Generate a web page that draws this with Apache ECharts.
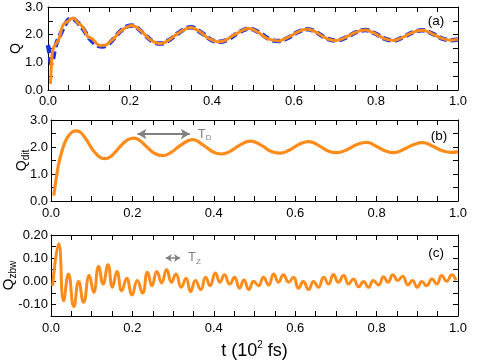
<!DOCTYPE html>
<html>
<head>
<meta charset="utf-8">
<script src="https://cdn.jsdelivr.net/npm/echarts@6/dist/echarts.min.js"></script>
<style>
html, body { margin: 0; padding: 0; background: #fff; }
#chart { width: 485px; height: 363px; }
</style>
</head>
<body>
<div id="chart"></div>
<script>
// panel (a): total Q (orange) and reference Q (blue dashed)
var tTot = [0.006, 0.008, 0.010, 0.013, 0.017, 0.022, 0.028, 0.033, 0.038, 0.044, 0.050, 0.056, 0.062, 0.068, 0.074, 0.080, 0.088, 0.094, 0.100, 0.106, 0.114, 0.120, 0.128, 0.134, 0.140, 0.148, 0.156, 0.164, 0.172, 0.180, 0.188, 0.196, 0.204, 0.212, 0.220, 0.228, 0.236, 0.246, 0.256, 0.266, 0.276, 0.290, 0.305, 0.320, 0.335, 0.348, 0.362, 0.375, 0.390, 0.405, 0.418, 0.432, 0.448, 0.465, 0.478, 0.490, 0.503, 0.515, 0.530, 0.545, 0.562, 0.575, 0.590, 0.610, 0.622, 0.633, 0.645, 0.657, 0.670, 0.685, 0.703, 0.716, 0.730, 0.752, 0.763, 0.775, 0.787, 0.800, 0.812, 0.826, 0.843, 0.855, 0.870, 0.890, 0.902, 0.913, 0.925, 0.940, 0.952, 0.966, 0.984, 1.000];
var qTot = [0.22, 0.80, 1.30, 1.50, 1.62, 1.72, 1.90, 2.20, 2.38, 2.44, 2.50, 2.57, 2.60, 2.52, 2.40, 2.36, 2.18, 2.00, 1.90, 1.87, 1.76, 1.66, 1.60, 1.62, 1.62, 1.70, 1.80, 1.92, 2.06, 2.16, 2.24, 2.30, 2.33, 2.30, 2.22, 2.12, 2.01, 1.86, 1.76, 1.70, 1.68, 1.76, 1.92, 2.08, 2.20, 2.26, 2.18, 2.06, 1.88, 1.78, 1.74, 1.79, 1.94, 2.08, 2.18, 2.22, 2.16, 2.06, 1.90, 1.81, 1.77, 1.83, 1.94, 2.10, 2.18, 2.20, 2.15, 2.06, 1.94, 1.83, 1.79, 1.84, 1.94, 2.09, 2.15, 2.17, 2.11, 2.02, 1.92, 1.83, 1.79, 1.84, 1.94, 2.08, 2.14, 2.16, 2.12, 2.01, 1.92, 1.84, 1.80, 1.84];

var tRef = [0.000, 0.004, 0.008, 0.012, 0.017, 0.023, 0.030, 0.037, 0.044, 0.050, 0.058, 0.066, 0.074, 0.086, 0.098, 0.110, 0.122, 0.133, 0.145, 0.160, 0.175, 0.190, 0.204, 0.218, 0.235, 0.255, 0.275, 0.295, 0.320, 0.348, 0.375, 0.400, 0.418, 0.440, 0.465, 0.490, 0.515, 0.540, 0.562, 0.585, 0.610, 0.633, 0.657, 0.680, 0.703, 0.727, 0.752, 0.775, 0.798, 0.821, 0.843, 0.866, 0.890, 0.913, 0.937, 0.960, 0.984, 1.000];
var qRef = [1.62, 1.30, 0.95, 1.12, 1.50, 1.78, 2.00, 2.22, 2.42, 2.54, 2.58, 2.53, 2.41, 2.20, 1.92, 1.73, 1.60, 1.57, 1.63, 1.85, 2.10, 2.28, 2.33, 2.24, 2.01, 1.76, 1.68, 1.80, 2.08, 2.27, 2.06, 1.80, 1.74, 1.84, 2.08, 2.22, 2.08, 1.84, 1.77, 1.88, 2.10, 2.20, 2.06, 1.86, 1.79, 1.90, 2.09, 2.17, 2.04, 1.86, 1.79, 1.91, 2.08, 2.16, 2.04, 1.87, 1.80, 1.83];

// panel (b): Q_dit
var tDit = [0.007, 0.010, 0.014, 0.020, 0.027, 0.035, 0.045, 0.055, 0.062, 0.070, 0.080, 0.090, 0.100, 0.110, 0.122, 0.133, 0.145, 0.160, 0.175, 0.190, 0.204, 0.218, 0.235, 0.255, 0.275, 0.295, 0.320, 0.348, 0.375, 0.400, 0.418, 0.440, 0.465, 0.490, 0.515, 0.540, 0.562, 0.585, 0.610, 0.633, 0.657, 0.680, 0.703, 0.727, 0.752, 0.775, 0.798, 0.821, 0.843, 0.866, 0.890, 0.913, 0.937, 0.960, 0.984, 1.000];
var qDit = [0.20, 0.55, 0.95, 1.45, 1.85, 2.20, 2.45, 2.58, 2.60, 2.57, 2.42, 2.20, 1.95, 1.76, 1.61, 1.57, 1.63, 1.85, 2.10, 2.28, 2.33, 2.24, 2.01, 1.76, 1.68, 1.80, 2.08, 2.27, 2.06, 1.80, 1.74, 1.84, 2.08, 2.22, 2.08, 1.84, 1.77, 1.88, 2.10, 2.20, 2.06, 1.86, 1.79, 1.90, 2.09, 2.17, 2.04, 1.86, 1.79, 1.91, 2.08, 2.16, 2.04, 1.87, 1.80, 1.83];

// panel (c): Q_zbw
var tZbw = [0.004, 0.019, 0.031, 0.043, 0.056, 0.068, 0.080, 0.094, 0.105, 0.117, 0.128, 0.140, 0.151, 0.162, 0.174, 0.186, 0.199, 0.212, 0.225, 0.237, 0.248, 0.260, 0.272, 0.284, 0.296, 0.307, 0.320, 0.332, 0.343, 0.355, 0.368, 0.380, 0.391, 0.404, 0.415, 0.426, 0.439, 0.451, 0.463, 0.474, 0.486, 0.498, 0.510, 0.522, 0.535, 0.547, 0.559, 0.571, 0.584, 0.596, 0.608, 0.620, 0.633, 0.645, 0.657, 0.670, 0.682, 0.694, 0.706, 0.719, 0.731, 0.743, 0.756, 0.768, 0.780, 0.792, 0.805, 0.817, 0.828, 0.840, 0.852, 0.864, 0.877, 0.888, 0.900, 0.911, 0.923, 0.936, 0.948, 0.960, 0.972, 0.985, 0.995];
var qZbw = [-0.020, 0.162, -0.084, 0.032, -0.109, -0.001, -0.091, 0.025, -0.048, 0.064, -0.012, 0.071, -0.026, 0.042, -0.041, 0.013, -0.059, 0.003, -0.051, 0.039, -0.019, 0.042, -0.007, 0.051, -0.004, 0.032, -0.026, 0.013, -0.045, 0.003, -0.036, 0.017, -0.019, 0.036, -0.004, 0.028, -0.012, 0.017, -0.030, 0.006, -0.036, 0.000, -0.019, 0.017, -0.016, 0.032, -0.004, 0.028, -0.004, 0.017, -0.030, -0.001, -0.036, -0.001, -0.026, 0.017, -0.012, 0.029, -0.004, 0.025, -0.012, 0.010, -0.024, -0.001, -0.026, 0.003, -0.016, 0.020, -0.004, 0.028, 0.003, 0.022, -0.016, 0.003, -0.026, -0.001, -0.019, 0.010, -0.012, 0.025, 0.000, 0.028, 0.003];

// arrows for periods
var tdArrow = [0.2125, 0.341, 2.48];
var tzArrow = [0.282, 0.317, 0.101];

var FONT = '"Liberation Sans", Arial, sans-serif';
var ORANGE = '#ff8c1a';
var GREY = '#808080';

function pairs(t, q) {
	return t.map(function(x, i) { return [x, q[i]]; });
}

function xAxis(g, pos, margin, name) {
	return {
		type: 'value', gridIndex: g, position: pos,
		min: 0, max: 1, interval: 0.2,
		name: name || '', nameLocation: 'middle', nameGap: 24, nameMoveOverlap: false,
		nameTextStyle: {
			color: '#000', fontFamily: FONT,
			rich: {
				m: { fontSize: 18, lineHeight: 22, fontFamily: FONT, color: '#000' },
				sup: { fontSize: 10, lineHeight: 10, verticalAlign: 'top', fontFamily: FONT, color: '#000' }
			}
		},
		axisLine: { show: true, onZero: false, lineStyle: { color: '#000', width: 1 } },
		axisTick: { show: true, inside: true, length: 5, lineStyle: { color: '#000' } },
		minorTick: { show: true, splitNumber: 4, length: 5, lineStyle: { color: '#000' } },
		splitLine: { show: false },
		axisLabel: {
			show: pos === 'bottom', margin: margin, fontSize: 13, color: '#000', fontFamily: FONT,
			formatter: function(v) { return v.toFixed(1); }
		}
	};
}

function yAxis(g, pos, cfg) {
	return {
		type: 'value', gridIndex: g, position: pos,
		min: cfg.min, max: cfg.max, interval: cfg.interval,
		name: pos === 'left' ? cfg.name : '', nameLocation: 'middle', nameRotate: 90,
		nameGap: cfg.gap, nameMoveOverlap: false,
		nameTextStyle: {
			color: '#000', fontFamily: FONT, fontSize: cfg.fs,
			rich: {
				q: { fontSize: cfg.fs, lineHeight: 18, fontFamily: FONT, color: '#000' },
				s: { fontSize: 10, lineHeight: 8, verticalAlign: 'bottom', fontFamily: FONT, color: '#000' }
			}
		},
		axisLine: { show: true, onZero: false, lineStyle: { color: '#000', width: 1 } },
		axisTick: { show: true, inside: true, length: 5, lineStyle: { color: '#000' } },
		minorTick: { show: !!cfg.minor, splitNumber: cfg.minor || 2, length: 5, lineStyle: { color: '#000' } },
		splitLine: { show: false },
		axisLabel: {
			show: pos === 'left', margin: cfg.margin, fontSize: 13, color: '#000', fontFamily: FONT,
			formatter: cfg.fmt
		}
	};
}

function arrowLine(a, width, size, labelRich) {
	return {
		silent: true,
		symbol: ['arrow', 'arrow'],
		symbolSize: size,
		lineStyle: { color: GREY, width: width, type: 'solid' },
		label: {
			show: true, position: 'end', distance: 8, color: GREY,
			formatter: labelRich,
			rich: {
				t: { fontSize: 13, color: GREY, fontFamily: FONT, lineHeight: 16 },
				s: { fontSize: 8, color: GREY, fontFamily: FONT, lineHeight: 8, verticalAlign: 'bottom' }
			}
		},
		data: [[{ coord: [a[0], a[2]] }, { coord: [a[1], a[2]] }]]
	};
}

var fmt1 = function(v) { return v.toFixed(1); };
var fmt2 = function(v) {
	var r = Math.round(v * 100);
	return Math.abs(r) % 10 === 0 ? (r / 100).toFixed(2) : '';
};

var abc = { min: 0, max: 3, interval: 1, minor: 2, fmt: fmt1 };

var myChart = echarts.init(document.getElementById('chart'));
var option = {
	animation: false,
	backgroundColor: '#fff',
	grid: [
		{ left: 48, top: 7, width: 410, height: 83, outerBoundsMode: 'none' },
		{ left: 51, top: 120, width: 407, height: 81, outerBoundsMode: 'none' },
		{ left: 51, top: 235, width: 407, height: 81, outerBoundsMode: 'none' }
	],
	xAxis: [
		xAxis(0, 'bottom', 5), xAxis(0, 'top'),
		xAxis(1, 'bottom', 6), xAxis(1, 'top'),
		xAxis(2, 'bottom', 6, '{m|t (10}{sup|2}{m| fs)}'), xAxis(2, 'top')
	],
	yAxis: [
		yAxis(0, 'left', Object.assign({ name: 'Q', gap: 25, fs: 14, margin: 5 }, abc)),
		yAxis(0, 'right', abc),
		yAxis(1, 'left', Object.assign({ name: '{q|Q}{s|dit}', gap: 20, fs: 14, margin: 3 }, abc)),
		yAxis(1, 'right', abc),
		yAxis(2, 'left', { min: -0.15, max: 0.2, interval: 0.05, fmt: fmt2, name: '{q|Q}{s|zbw}', gap: 33, fs: 15, margin: 3 }),
		yAxis(2, 'right', { min: -0.15, max: 0.2, interval: 0.05 })
	],
	graphic: [
		{ type: 'text', x: 436, y: 21, style: { text: '(a)', font: '13.5px ' + FONT, fill: '#000', align: 'center', verticalAlign: 'middle' } },
		{ type: 'text', x: 439, y: 136, style: { text: '(b)', font: '13.5px ' + FONT, fill: '#000', align: 'center', verticalAlign: 'middle' } },
		{ type: 'text', x: 436, y: 253, style: { text: '(c)', font: '13.5px ' + FONT, fill: '#000', align: 'center', verticalAlign: 'middle' } }
	],
	series: [
		{
			type: 'line', xAxisIndex: 0, yAxisIndex: 0, data: pairs(tRef, qRef),
			showSymbol: false, smooth: 0.4,
			lineStyle: { color: '#1a32e6', width: 4.5, type: [8, 4] }
		},
		{
			type: 'line', xAxisIndex: 0, yAxisIndex: 0, data: pairs(tTot, qTot),
			showSymbol: false, smooth: 0.4,
			lineStyle: { color: ORANGE, width: 3 }
		},
		{
			type: 'line', xAxisIndex: 2, yAxisIndex: 2, data: pairs(tDit, qDit),
			showSymbol: false, smooth: 0.5,
			lineStyle: { color: ORANGE, width: 3.2 },
			markLine: arrowLine(tdArrow, 2, [8, 9], '{t|T}{s|D}')
		},
		{
			type: 'line', xAxisIndex: 4, yAxisIndex: 4, data: pairs(tZbw, qZbw),
			showSymbol: false, smooth: 0.5,
			lineStyle: { color: ORANGE, width: 3 },
			markLine: arrowLine(tzArrow, 1.5, [6, 6], '{t|T}{s|Z}')
		}
	]
};
myChart.setOption(option);
</script>
</body>
</html>
